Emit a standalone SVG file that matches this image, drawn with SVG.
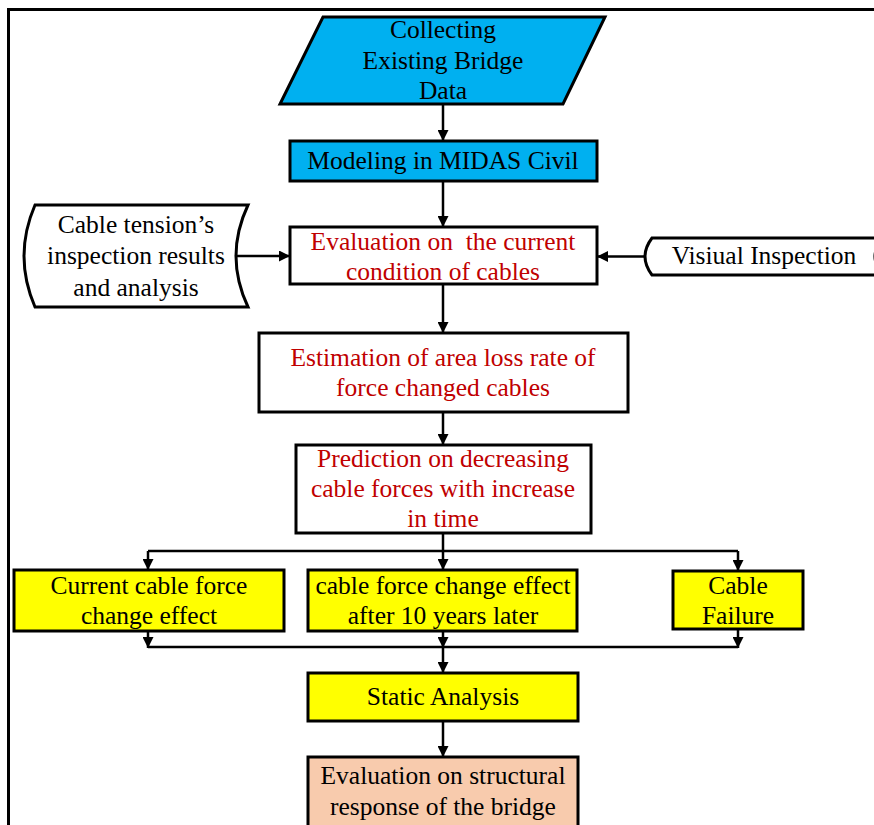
<svg xmlns="http://www.w3.org/2000/svg" width="874" height="825" viewBox="0 0 874 825">
<defs>
<marker id="ah" viewBox="0 0 10 10" refX="10" refY="5" markerWidth="4.8" markerHeight="4.4" markerUnits="strokeWidth" orient="auto">
<path d="M0,0 L10,5 L0,10 z" fill="#000"/>
</marker>
</defs>
<style>
.n{stroke:#000;stroke-width:3;}
.t{font-family:"Liberation Serif","Times New Roman",serif;font-size:25.5px;text-anchor:middle;fill:#000;}
.r{fill:#C00000;}
.c{fill:none;stroke:#000;stroke-width:2.5;}
.a{marker-end:url(#ah);}
</style>
<rect x="0" y="0" width="874" height="825" fill="#fff"/>
<path d="M8.5,830 V9.5 H880" fill="none" stroke="#000" stroke-width="3"/>

<g id="collect">
<polygon class="n" points="323,17 605,17 563,104 280,104" fill="#00B0F0"/>
<text class="t" x="443" y="38">Collecting</text>
<text class="t" x="443" y="69">Existing Bridge</text>
<text class="t" x="443" y="99">Data</text>
</g>
<g id="midas">
<rect class="n" x="290" y="141" width="307" height="40" fill="#00B0F0"/>
<text class="t" x="443" y="169">Modeling in MIDAS Civil</text>
</g>
<g id="cabletension">
<path class="n" d="M35,205 H248 Q224,256 248,307 H35 Q13,256 35,205 z" fill="#fff"/>
<text class="t" x="136" y="233">Cable tension’s</text>
<text class="t" x="136" y="264">inspection results</text>
<text class="t" x="136" y="296">and analysis</text>
</g>
<g id="visual">
<path class="n" d="M652,238 H884 Q866,256.5 884,275 H652 Q638,256.5 652,238 z" fill="#fff"/>
<text class="t" x="764" y="264">Visiual Inspection</text>
</g>
<g id="evalcables">
<rect class="n" x="290" y="227" width="307" height="57" fill="#fff"/>
<text class="t r" x="443" y="250" xml:space="preserve">Evaluation on  the current</text>
<text class="t r" x="443" y="280">condition of cables</text>
</g>
<g id="estimation">
<rect class="n" x="259" y="333" width="369" height="79" fill="#fff"/>
<text class="t r" x="443" y="366">Estimation of area loss rate of</text>
<text class="t r" x="443" y="396">force changed cables</text>
</g>
<g id="prediction">
<rect class="n" x="296" y="445" width="295" height="88" fill="#fff"/>
<text class="t r" x="443" y="467">Prediction on decreasing</text>
<text class="t r" x="443" y="497">cable forces with increase</text>
<text class="t r" x="443" y="527">in time</text>
</g>
<g id="current">
<rect class="n" x="14" y="570" width="270" height="61" fill="#FFFF00"/>
<text class="t" x="149" y="594">Current cable force</text>
<text class="t" x="149" y="624">change effect</text>
</g>
<g id="tenyears">
<rect class="n" x="308" y="570" width="269" height="61" fill="#FFFF00"/>
<text class="t" x="443" y="594">cable force change effect</text>
<text class="t" x="443" y="624">after 10 years later</text>
</g>
<g id="failure">
<rect class="n" x="673" y="571" width="130" height="58" fill="#FFFF00"/>
<text class="t" x="738" y="594">Cable</text>
<text class="t" x="738" y="624">Failure</text>
</g>
<g id="static">
<rect class="n" x="308" y="673" width="270" height="48" fill="#FFFF00"/>
<text class="t" x="443" y="705">Static Analysis</text>
</g>
<g id="structural">
<rect class="n" x="308" y="757" width="270" height="80" fill="#F8CBAD"/>
<text class="t" x="443" y="784">Evaluation on structural</text>
<text class="t" x="443" y="815">response of the bridge</text>
</g>

<g id="connectors">
<line class="c a" x1="443" y1="104" x2="443" y2="141"/>
<line class="c a" x1="443" y1="181" x2="443" y2="227"/>
<line class="c a" x1="236" y1="256" x2="290" y2="256"/>
<line class="c a" x1="645" y1="256.5" x2="597" y2="256.5"/>
<line class="c a" x1="443" y1="284" x2="443" y2="333"/>
<line class="c a" x1="443" y1="412" x2="443" y2="445"/>
<line class="c" x1="443" y1="533" x2="443" y2="551"/>
<line class="c" x1="148" y1="551" x2="738" y2="551"/>
<line class="c a" x1="148" y1="551" x2="148" y2="570"/>
<line class="c a" x1="443" y1="551" x2="443" y2="570"/>
<line class="c a" x1="738" y1="551" x2="738" y2="571"/>
<line class="c a" x1="148" y1="631" x2="148" y2="648"/>
<line class="c a" x1="443" y1="631" x2="443" y2="648"/>
<line class="c a" x1="738" y1="629" x2="738" y2="648"/>
<line class="c" x1="148" y1="647" x2="738" y2="647"/>
<line class="c a" x1="443" y1="647" x2="443" y2="673"/>
<line class="c a" x1="443" y1="721" x2="443" y2="757"/>
</g>
</svg>
